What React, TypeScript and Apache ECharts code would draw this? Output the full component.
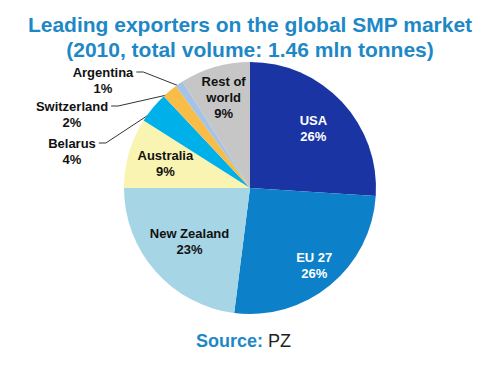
import React, { useEffect, useRef } from "react";
import * as echarts from "echarts";

const categories = ["USA", "EU 27", "New Zealand", "Australia", "Belarus", "Switzerland", "Argentina", "Rest of world"];
const labelNames = ["USA", "EU 27", "New Zealand", "Australia", "Belarus", "Switzerland", "Argentina", "Rest of\nworld"];
const shares = [26, 26, 23, 9, 4, 2, 1, 9];
const sliceColors = ["#1a35a3", "#0c80c8", "#a6d5e6", "#faf4b2", "#00b0e8", "#f8bd48", "#a4c3e6", "#c6c6c6"];
const labelColors = ["#ffffff", "#ffffff", "#111111", "#111111", "#111111", "#111111", "#111111", "#111111"];
const outsideLabels = ["Belarus", "Switzerland", "Argentina"];

// layout constants (not data)
const CX = 250;
const CY = 188;
const R = 126;
const insideRadiusFrac: Record<string, number> = {
  "USA": 0.69,
  "EU 27": 0.8,
  "New Zealand": 0.64,
  "Australia": 0.7,
  "Rest of world": 0.75,
};
const outsideLabelPos: Record<string, [number, number]> = {
  "Argentina": [103, 80],
  "Switzerland": [72, 114],
  "Belarus": [72, 151],
};

const FONT = "Liberation Sans, Arial, Helvetica, sans-serif";

export default function App() {
  const ref = useRef<HTMLDivElement>(null);
  useEffect(() => {
    document.body.style.margin = "0";
    if (!ref.current) return;
    const chart = echarts.init(ref.current, null, { renderer: "svg" });
    const total = shares.reduce((a, b) => a + b, 0);
    const midAngles: number[] = [];
    let cum = 0;
    shares.forEach((s) => {
      midAngles.push(((cum + s / 2) / total) * Math.PI * 2);
      cum += s;
    });

    chart.setOption({
      animation: false,
      backgroundColor: "#ffffff",
      title: [
        {
          text: "Leading exporters on the global SMP market\n(2010, total volume: 1.46 mln tonnes)",
          left: "center",
          top: 7,
          textStyle: {
            color: "#1e88c7",
            fontSize: 21,
            lineHeight: 25,
            fontWeight: "bold",
            fontFamily: FONT,
          },
        },
        {
          text: "{a|Source:} {b|PZ}",
          left: 191,
          top: 327,
          textStyle: {
            rich: {
              a: { color: "#1e88c7", fontSize: 18, fontWeight: "bold", fontFamily: FONT },
              b: { color: "#222222", fontSize: 18, fontWeight: "normal", fontFamily: FONT },
            },
          },
        },
      ],
      series: [
        {
          type: "pie",
          center: [CX, CY],
          radius: [0, R],
          startAngle: 90,
          clockwise: true,
          avoidLabelOverlap: false,
          data: categories.map((name, i) => {
            const outside = outsideLabels.includes(name);
            return {
              name,
              value: shares[i],
              itemStyle: { color: sliceColors[i] },
              label: {
                show: true,
                position: outside ? "outside" : "inside",
                formatter: `${labelNames[i]}\n${shares[i]}%`,
                color: labelColors[i],
                fontSize: 13,
                lineHeight: 16,
                fontWeight: "bold",
                fontFamily: FONT,
                align: "center",
              },
              labelLine: {
                show: outside,
                lineStyle: { color: "#333333", width: 1 },
              },
            };
          }),
          labelLayout: (params: any) => {
            const i = params.dataIndex;
            const name = categories[i];
            const th = midAngles[i];
            if (outsideLabels.includes(name)) {
              const [lx, ly] = outsideLabelPos[name];
              const w = params.labelRect.width;
              const h = params.labelRect.height;
              const ex = CX + R * 0.97 * Math.sin(th);
              const ey = CY - R * 0.97 * Math.cos(th);
              const endX = lx + w / 2 + 3;
              const endY = ly - h / 2 + 8;
              return {
                x: lx,
                y: ly,
                align: "center",
                verticalAlign: "middle",
                labelLinePoints: [
                  [ex, ey],
                  [endX + 7, endY],
                  [endX, endY],
                ],
              };
            }
            const f = insideRadiusFrac[name] ?? 0.7;
            return {
              x: CX + R * f * Math.sin(th),
              y: CY - R * f * Math.cos(th),
              align: "center",
              verticalAlign: "middle",
            };
          },
        },
      ],
    });
    return () => chart.dispose();
  }, []);
  return <div ref={ref} style={{ width: 500, height: 373 }} />;
}
